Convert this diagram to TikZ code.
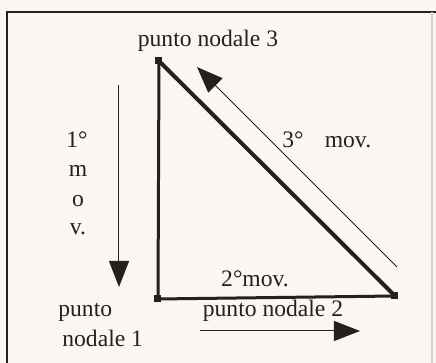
\documentclass[tikz,border=0pt]{standalone}
\usepackage{fontspec}
\setmainfont{Liberation Serif}
\usetikzlibrary{arrows.meta}
\definecolor{fondocarta}{RGB}{252,246,243}
\definecolor{inchiostro}{RGB}{35,32,32}

\begin{document}
\begin{tikzpicture}[x=0.5pt,y=-0.5pt,
  nodo/.style={fill=inchiostro,inner sep=0pt,minimum size=3.5pt},
  lato/.style={inchiostro,line width=1.5pt},
  freccia/.style={inchiostro,line width=0.5pt,-{Triangle[length=13pt,width=10pt]}},
  testo/.style={inchiostro,font=\fontsize{11.8}{14}\selectfont,inner sep=0pt,anchor=base}]
  \fill[fondocarta](0,0)rectangle(436,363);
  \useasboundingbox(0,0)rectangle(436,363);
  % cornice
  \draw[inchiostro,line width=1pt](7,363)--(7,12)--(436,12);
  \draw[gray!35,line width=0.6pt](432,12)--(432,363);
  % punti nodali
  \node[nodo] (n1) at (158,299) {};
  \node[nodo] (n2) at (395,296) {};
  \node[nodo] (n3) at (159,61) {};
  \draw[lato] (n3.center)--(n1.center)--(n2.center);
  \draw[lato,line width=2pt] (n2.center)--(n3.center);
  % movimenti
  \coordinate (m1a) at (119,85);  \coordinate (m1b) at (119,287);
  \coordinate (m2a) at (200,331); \coordinate (m2b) at (360,331);
  \coordinate (m3a) at (397,267); \coordinate (m3b) at (197,67);
  \draw[freccia] (m1a)--(m1b);
  \draw[freccia] (m2a)--(m2b);
  \draw[freccia] (m3a)--(m3b);
  % testi
  \node[testo] (t3) at (208,47) {punto nodale 3};
  \node[testo] (t2) at (273,317) {punto nodale 2};
  \node[testo,anchor=base west] (t1a) at (58,317) {punto};
  \node[testo,anchor=base west] (t1b) at (62,347) {nodale 1};
  \node[testo] (v1) at (77,148) {1°};
  \node[testo] (v2) at (78,177) {m};
  \node[testo] (v3) at (78,207) {o};
  \node[testo] (v4) at (78,235) {v.};
  \node[testo] (d3) at (293,148) {3°};
  \node[testo] (d3b) at (348,148) {mov.};
  \node[testo] (o2) at (255,287) {2°mov.};
\end{tikzpicture}
\end{document}
